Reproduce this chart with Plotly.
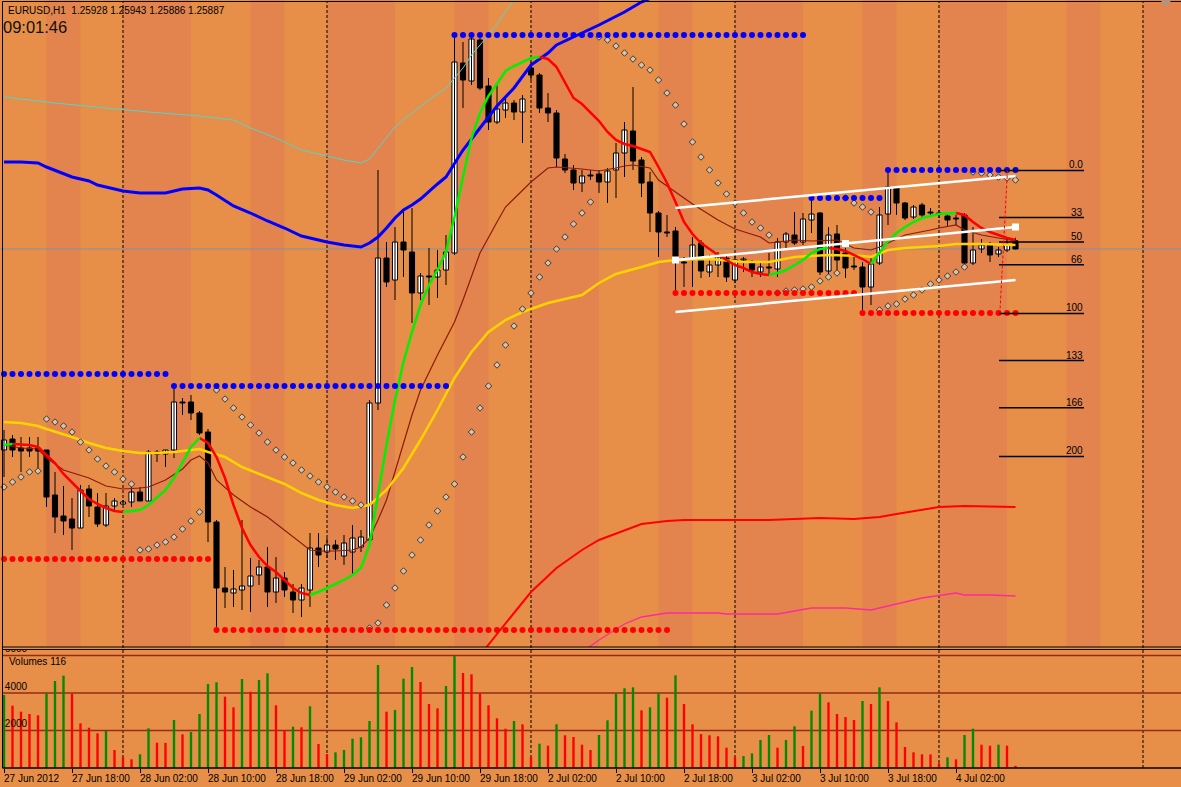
import pandas as pd
import plotly.graph_objects as go

W, H = 1181, 787

# ============================ DATA ============================
header_text = "EURUSD,H1  1.25928 1.25943 1.25886 1.25887"
clock_text = "09:01:46"
volume_title = "Volumes 116"

tick_labels = ["27 Jun 2012", "27 Jun 18:00", "28 Jun 02:00", "28 Jun 10:00", "28 Jun 18:00",
               "29 Jun 02:00", "29 Jun 10:00", "29 Jun 18:00", "2 Jul 02:00", "2 Jul 10:00",
               "2 Jul 18:00", "3 Jul 02:00", "3 Jul 10:00", "3 Jul 18:00", "4 Jul 02:00"]

open_ = [1.24882, 1.24937, 1.24892, 1.24892, 1.24892, 1.24882, 1.24657, 1.24552, 1.24537, 1.24492,
         1.24687, 1.24597, 1.24507, 1.24602, 1.24612, 1.24622, 1.24672, 1.24627, 1.24872, 1.24862,
         1.24882, 1.25122, 1.25122, 1.25067, 1.24972, 1.24522, 1.24192, 1.24167, 1.24182, 1.24202,
         1.24257, 1.24297, 1.24172, 1.24242, 1.24172, 1.24132, 1.24182, 1.24392, 1.24372, 1.24407,
         1.24352, 1.24372, 1.24397, 1.24432, 1.25117, 1.25842, 1.25732, 1.25922, 1.25872, 1.25667,
         1.25752, 1.25747, 1.25782, 1.25867, 1.26817, 1.26727, 1.26932, 1.26702, 1.26522, 1.26582,
         1.26617, 1.26572, 1.26792, 1.26757, 1.26592, 1.26567, 1.26337, 1.26282, 1.26217, 1.26257,
         1.26262, 1.26222, 1.26282, 1.26367, 1.26477, 1.26332, 1.26222, 1.26067, 1.25972, 1.25977,
         1.25822, 1.25832, 1.25917, 1.25772, 1.25807, 1.25842, 1.25732, 1.25832, 1.25817, 1.25772,
         1.25797, 1.25787, 1.25922, 1.25957, 1.25922, 1.26032, 1.26067, 1.25777, 1.25962, 1.25867,
         1.25802, 1.25797, 1.25697, 1.25817, 1.26062, 1.26192, 1.26117, 1.26047, 1.26107, 1.26072,
         1.26067, 1.26052, 1.26042, 1.26057, 1.25817, 1.25887, 1.25907, 1.25862, 1.25882, 1.25928]

high = [1.24982, 1.24957, 1.24947, 1.24947, 1.24947, 1.24882, 1.24772, 1.24702, 1.24642, 1.24707,
        1.24707, 1.24667, 1.24667, 1.24642, 1.24632, 1.24697, 1.24697, 1.24882, 1.24882, 1.24882,
        1.25202, 1.25142, 1.25157, 1.25077, 1.24987, 1.24532, 1.24297, 1.24282, 1.24532, 1.24342,
        1.24332, 1.24397, 1.24347, 1.24272, 1.24212, 1.24212, 1.24467, 1.24467, 1.24442, 1.24432,
        1.24457, 1.24507, 1.24482, 1.25132, 1.26282, 1.25922, 1.25997, 1.26082, 1.26092, 1.25767,
        1.25892, 1.25882, 1.25957, 1.26947, 1.26922, 1.26947, 1.26942, 1.26742, 1.26707, 1.26642,
        1.26632, 1.26657, 1.26822, 1.26767, 1.26667, 1.26582, 1.26362, 1.26307, 1.26282, 1.26282,
        1.26282, 1.26292, 1.26417, 1.26522, 1.26697, 1.26347, 1.26272, 1.26077, 1.26057, 1.25997,
        1.25847, 1.25947, 1.25932, 1.25857, 1.25872, 1.25857, 1.25867, 1.25847, 1.25832, 1.25822,
        1.25867, 1.25942, 1.25972, 1.26072, 1.26067, 1.26142, 1.26072, 1.25997, 1.26007, 1.25892,
        1.25847, 1.25822, 1.25847, 1.26097, 1.26272, 1.26197, 1.26122, 1.26107, 1.26117, 1.26092,
        1.26082, 1.26067, 1.26057, 1.26067, 1.25997, 1.25937, 1.25922, 1.25897, 1.25942, 1.25943]

low = [1.24747, 1.24847, 1.24772, 1.24847, 1.24767, 1.24597, 1.24467, 1.24457, 1.24382, 1.24492,
       1.24547, 1.24497, 1.24497, 1.24577, 1.24607, 1.24597, 1.24627, 1.24627, 1.24822, 1.24797,
       1.24842, 1.25057, 1.25032, 1.24957, 1.24422, 1.23982, 1.24092, 1.24097, 1.24082, 1.24072,
       1.24207, 1.24097, 1.24117, 1.24147, 1.24067, 1.24047, 1.24097, 1.24297, 1.24342, 1.24332,
       1.24307, 1.24257, 1.24372, 1.24407, 1.25082, 1.25697, 1.25632, 1.25747, 1.25517, 1.25632,
       1.25607, 1.25642, 1.25707, 1.25857, 1.26592, 1.26707, 1.26682, 1.26482, 1.26512, 1.26542,
       1.26532, 1.26417, 1.26732, 1.26567, 1.26522, 1.26297, 1.26267, 1.26182, 1.26172, 1.26232,
       1.26167, 1.26117, 1.26142, 1.26247, 1.26282, 1.26147, 1.25972, 1.25847, 1.25947, 1.25667,
       1.25697, 1.25697, 1.25742, 1.25747, 1.25747, 1.25722, 1.25717, 1.25772, 1.25747, 1.25747,
       1.25757, 1.25747, 1.25892, 1.25907, 1.25907, 1.25967, 1.25757, 1.25757, 1.25782, 1.25742,
       1.25782, 1.25567, 1.25607, 1.25807, 1.26007, 1.26057, 1.26032, 1.26037, 1.26047, 1.26057,
       1.26042, 1.25997, 1.26007, 1.25792, 1.25807, 1.25867, 1.25822, 1.25847, 1.25872, 1.25886]

close = [1.24932, 1.24882, 1.24877, 1.24877, 1.24877, 1.24647, 1.24547, 1.24527, 1.24492, 1.24682,
         1.24602, 1.24512, 1.24602, 1.24627, 1.24622, 1.24672, 1.24627, 1.24872, 1.24862, 1.24882,
         1.25122, 1.25117, 1.25067, 1.24967, 1.24522, 1.24192, 1.24172, 1.24187, 1.24202, 1.24252,
         1.24297, 1.24172, 1.24242, 1.24182, 1.24132, 1.24192, 1.24392, 1.24357, 1.24407, 1.24387,
         1.24417, 1.24442, 1.24447, 1.25117, 1.25842, 1.25722, 1.25922, 1.25882, 1.25667, 1.25752,
         1.25747, 1.25782, 1.25872, 1.26822, 1.26732, 1.26937, 1.26692, 1.26522, 1.26587, 1.26617,
         1.26572, 1.26637, 1.26757, 1.26592, 1.26567, 1.26342, 1.26282, 1.26217, 1.26252, 1.26252,
         1.26222, 1.26277, 1.26367, 1.26482, 1.26327, 1.26217, 1.26067, 1.25972, 1.25967, 1.25847,
         1.25817, 1.25907, 1.25777, 1.25807, 1.25847, 1.25747, 1.25832, 1.25837, 1.25782, 1.25797,
         1.25792, 1.25922, 1.25962, 1.25917, 1.26037, 1.26062, 1.25772, 1.25957, 1.25832, 1.25792,
         1.25797, 1.25697, 1.25812, 1.26057, 1.26197, 1.26117, 1.26042, 1.26097, 1.26057, 1.26067,
         1.26062, 1.26032, 1.26037, 1.25817, 1.25882, 1.25907, 1.25857, 1.25882, 1.25907, 1.25887]

volume = [3893, 3323, 3003, 2880, 2811, 3984, 4640, 4923, 3950, 2384,
          2149, 1851, 1973, 960, 571, 464, 731, 2117, 1349, 1340,
          2560, 1797, 1920, 2880, 4480, 4571, 3803, 3237, 4747, 4069,
          4693, 5051, 3344, 2027, 2203, 2171, 3291, 1280, 747, 837,
          960, 1563, 1637, 2507, 5493, 3003, 3093, 4763, 5387, 4587,
          3413, 3184, 4373, 5989, 5067, 4997, 3984, 3344, 2651, 2096,
          2507, 2331, 587, 1296, 1189, 2331, 1744, 1653, 1243, 960,
          1760, 2544, 3984, 4251, 4304, 3077, 3237, 3984, 3749, 4944,
          3413, 2331, 1813, 1744, 1691, 1083, 571, 640, 784, 1493,
          1760, 1083, 1493, 2224, 1173, 3056, 3984, 3504, 2880, 2720,
          2560, 3573, 3413, 4304, 3573, 2437, 1120, 837, 731, 725,
          251, 571, 464, 1760, 2096, 1243, 1189, 1243, 1189, 116]

# Fast moving average (drawn green while rising, red while falling)
fast_ma = [1.24907, 1.24912, 1.24910, 1.24907, 1.24897, 1.24857, 1.24817, 1.24762, 1.24717, 1.24677,
           1.24637, 1.24612, 1.24592, 1.24577, 1.24572, 1.24577, 1.24582, 1.24607, 1.24647, 1.24682,
           1.24742, 1.24822, 1.24897, 1.24942, 1.24917, 1.24847, 1.24742, 1.24607, 1.24492, 1.24407,
           1.24347, 1.24302, 1.24272, 1.24232, 1.24192, 1.24167, 1.24157, 1.24172, 1.24192, 1.24212,
           1.24232, 1.24257, 1.24292, 1.24407, 1.24657, 1.24907, 1.25132, 1.25322, 1.25472, 1.25607,
           1.25707, 1.25782, 1.25872, 1.26047, 1.26247, 1.26442, 1.26567, 1.26652, 1.26712, 1.26777,
           1.26802, 1.26822, 1.26842, 1.26847, 1.26837, 1.26797, 1.26722, 1.26642, 1.26612, 1.26572,
           1.26527, 1.26472, 1.26432, 1.26412, 1.26402, 1.26387, 1.26372, 1.26297, 1.26217, 1.26122,
           1.26022, 1.25962, 1.25917, 1.25887, 1.25857, 1.25832, 1.25807, 1.25792, 1.25772, 1.25762,
           1.25757, 1.25767, 1.25782, 1.25807, 1.25832, 1.25867, 1.25887, 1.25892, 1.25887, 1.25877,
           1.25857, 1.25837, 1.25812, 1.25872, 1.25927, 1.25967, 1.25997, 1.26022, 1.26042, 1.26052,
           1.26062, 1.26065, 1.26067, 1.26057, 1.26022, 1.25992, 1.25972, 1.25957, 1.25942, 1.25932]

# Parabolic SAR
sar = [1.24697, 1.24722, 1.24747, 1.24772, 1.24777, 1.25037, 1.25022, 1.25002, 1.24972, 1.24922,
       1.24882, 1.24837, 1.24802, 1.24772, 1.24737, 1.24712, 1.24382, 1.24387, 1.24407, 1.24422,
       1.24447, 1.24487, 1.24527, 1.24572, None, 1.25182, 1.25137, 1.25092, 1.25047, 1.25007,
       1.24967, 1.24922, 1.24882, 1.24847, 1.24817, 1.24782, 1.24752, 1.24722, 1.24697, 1.24672,
       1.24647, 1.24627, 1.24607, 1.23992, 1.24017, 1.24107, 1.24192, 1.24277, 1.24357, 1.24432,
       1.24507, 1.24577, 1.24647, 1.24712, 1.24847, 1.24972, 1.25092, 1.25202, 1.25307, 1.25407,
       1.25502, 1.25587, 1.25667, 1.25747, 1.25817, 1.25887, 1.25947, 1.26012, 1.26067, 1.26122,
       1.26947, 1.26932, 1.26902, 1.26867, 1.26837, 1.26807, 1.26782, 1.26732, 1.26667, 1.26607,
       1.26512, 1.26422, 1.26347, 1.26282, 1.26217, 1.26162, 1.26117, 1.26067, 1.26022, 1.25992,
       1.25957, 1.25667, 1.25677, 1.25682, 1.25687, 1.25697, 1.25727, 1.25747, 1.25767, 1.26142,
       1.26117, 1.26097, 1.26072, 1.25582, 1.25602, 1.25612, 1.25637, 1.25657, 1.25682, 1.25712,
       1.25732, 1.25752, 1.25772, 1.25797, 1.26272, 1.26267, 1.26257, 1.26247, 1.26242, 1.26232]

# Slow lines (bar index, price)
blue_idx = [0, 2, 4, 5, 8, 10, 11, 14, 16, 19, 21, 23, 24, 25, 27, 29, 31, 33, 35, 38, 40, 42, 43,
            44, 45, 46, 47, 48, 49, 50, 51, 52, 53, 54, 56, 57, 58, 60, 62, 64, 65, 68, 70, 73, 75, 77]
blue_val = [1.26322, 1.26322, 1.26317, 1.26297, 1.26247, 1.26227, 1.26207, 1.26177, 1.26167, 1.26167,
            1.26187, 1.26192, 1.26182, 1.26157, 1.26102, 1.26067, 1.26027, 1.25992, 1.25952, 1.25922,
            1.25907, 1.25897, 1.25917, 1.25947, 1.25992, 1.26042, 1.26082, 1.26107, 1.26137, 1.26177,
            1.26212, 1.26247, 1.26317, 1.26382, 1.26492, 1.26547, 1.26602, 1.26692, 1.26807, 1.26867,
            1.26907, 1.26967, 1.27007, 1.27072, 1.27122, 1.27157]

cyan_idx = [0, 6, 12, 17, 23, 27, 29, 32, 35, 37, 38, 40, 42, 43, 46, 48, 50, 52, 54, 55, 57, 58, 59, 60, 61]
cyan_val = [1.26647, 1.26617, 1.26592, 1.26572, 1.26552, 1.26532, 1.26492, 1.26442, 1.26382, 1.26362,
            1.26352, 1.26332, 1.26317, 1.26337, 1.26497, 1.26567, 1.26632, 1.26692, 1.26792, 1.26857,
            1.26957, 1.27012, 1.27077, 1.27132, 1.27182]

redband_idx = [55, 56, 58, 60, 62, 65, 68, 70, 73, 75, 78, 80, 90, 96, 100, 103, 105, 108, 110, 113, 119]
redband_val = [1.23802, 1.23857, 1.23962, 1.24067, 1.24172, 1.24292, 1.24382, 1.24432, 1.24482, 1.24512,
               1.24527, 1.24532, 1.24532, 1.24542, 1.24537, 1.24547, 1.24562, 1.24582, 1.24597, 1.24602,
               1.24597]

magenta_idx = [67, 68, 70, 73, 75, 77, 78, 84, 85, 88, 91, 95, 99, 102, 105, 108, 112, 113, 116, 119]
magenta_val = [1.23847, 1.23872, 1.23932, 1.24012, 1.24047, 1.24062, 1.24067, 1.24067, 1.24062, 1.24062,
               1.24062, 1.24092, 1.24092, 1.24082, 1.24112, 1.24142, 1.24167, 1.24157, 1.24157, 1.24152]

yellow_idx = [0, 2, 4, 5, 8, 10, 12, 14, 16, 18, 20, 22, 23, 24, 26, 28, 30, 33, 35, 37, 39, 41, 43, 45,
              47, 49, 51, 53, 55, 57, 59, 61, 64, 68, 70, 72, 75, 77, 79, 83, 87, 90, 93, 97, 101, 102,
              104, 106, 108, 110, 112, 115, 119]
yellow_val = [1.25022, 1.25017, 1.25002, 1.24987, 1.24947, 1.24917, 1.24892, 1.24877, 1.24867, 1.24867,
              1.24872, 1.24882, 1.24887, 1.24872, 1.24847, 1.24797, 1.24762, 1.24712, 1.24667, 1.24632,
              1.24607, 1.24592, 1.24607, 1.24682, 1.24792, 1.24932, 1.25082, 1.25242, 1.25372, 1.25472,
              1.25532, 1.25572, 1.25617, 1.25657, 1.25717, 1.25762, 1.25797, 1.25822, 1.25832, 1.25837,
              1.25822, 1.25822, 1.25847, 1.25857, 1.25852, 1.25847, 1.25882, 1.25892, 1.25897, 1.25902,
              1.25912, 1.25912, 1.25907]

brown_idx = [0, 2, 4, 5, 7, 10, 12, 14, 16, 17, 19, 21, 22, 23, 24, 25, 27, 29, 31, 33, 35, 36, 37, 39,
             41, 42, 43, 44, 45, 46, 47, 48, 49, 51, 53, 54, 56, 57, 58, 59, 62, 64, 65, 68, 70, 72, 73,
             74, 76, 77, 79, 81, 84, 86, 89, 90, 93, 95, 98, 100, 102, 103, 104, 106, 109, 110, 112,
             113, 115, 117, 119]
brown_val = [1.24907, 1.24892, 1.24887, 1.24842, 1.24782, 1.24742, 1.24702, 1.24687, 1.24692, 1.24697,
             1.24732, 1.24787, 1.24832, 1.24852, 1.24817, 1.24732, 1.24657, 1.24597, 1.24547, 1.24482,
             1.24417, 1.24382, 1.24377, 1.24377, 1.24382, 1.24397, 1.24442, 1.24532, 1.24632, 1.24772,
             1.24907, 1.25057, 1.25182, 1.25357, 1.25522, 1.25632, 1.25867, 1.25947, 1.26022, 1.26097,
             1.26222, 1.26292, 1.26297, 1.26287, 1.26277, 1.26292, 1.26302, 1.26307, 1.26292, 1.26232,
             1.26172, 1.26112, 1.26032, 1.25987, 1.25947, 1.25917, 1.25932, 1.25927, 1.25932, 1.25892,
             1.25882, 1.25897, 1.25917, 1.25957, 1.25982, 1.25992, 1.26007, 1.25982, 1.25957, 1.25942,
             1.25927]

# Fractal resistance (blue) / support (red) levels: first bar, last bar, price
res_first = [0, 20, 53, 95, 104]
res_last = [19, 52, 94, 103, 119]
res_price = [1.25262, 1.25202, 1.26957, 1.26142, 1.26282]
sup_first = [0, 25, 79, 101]
sup_last = [24, 78, 100, 119]
sup_price = [1.24337, 1.23982, 1.25667, 1.25567]

# Regression channel (first bar, last bar, upper/middle/lower prices at both ends)
chan_bars = [79, 119]
chan_upper = [1.26092, 1.26252]
chan_mid = [1.25832, 1.25997]
chan_lower = [1.25572, 1.25732]
chan_marks = [79, 99, 119]

# Fibonacci retracement
fib_high = 1.26280
fib_low = 1.25565
fib_levels = [0, 33, 50, 66, 100, 133, 166, 200]
fib_texts = ["0.0", "33", "50", "66", "100", "133", "166", "200"]
bid_price = 1.25887

# ============================ LAYOUT HELPERS ============================
N = len(close)
assert all(len(a) == N for a in (open_, high, low, volume, fast_ma, sar))
PX_PER_BAR = 8.5
X_RANGE = [-4 / PX_PER_BAR, (W - 4) / PX_PER_BAR]
MAIN_BOTTOM_PX = 647
VOL_TOP_PX, VOL_BOTTOM_PX = 650, 768
PRICE_TOP = 1.27132
PRICE_PER_PX = 0.00005
VOL_PER_PX = 2000 / 37.5


def yp(px):
    return 1 - px / H


def xp(px):
    return px / W


LIGHT = "#E78F48"
DARK = "#E3844F"
FONT = "Liberation Sans, Arial, sans-serif"

# bar times (H1, weekend skipped), extended into the empty future area
times = []
t = pd.Timestamp("2012-06-27 10:00")
while len(times) < 142:
    if t.weekday() < 5:
        times.append(t)
    t += pd.Timedelta(hours=1)

fig = go.Figure()

# ---- candles: wicks then bodies ----
wx, wy = [], []
for i in range(N):
    wx += [i, i, None]
    wy += [low[i], high[i], None]
fig.add_trace(go.Scatter(x=wx, y=wy, mode="lines", line=dict(color="black", width=1),
                         hoverinfo="skip", xaxis="x", yaxis="y"))
base = [min(o, c) for o, c in zip(open_, close)]
height = [max(abs(c - o), 0.00002) for o, c in zip(open_, close)]
body_col = ["white" if c > o else "black" for o, c in zip(open_, close)]
fig.add_trace(go.Bar(x=list(range(N)), y=height, base=base, width=0.6,
                     marker=dict(color=body_col, line=dict(color="black", width=1)),
                     xaxis="x", yaxis="y", hoverinfo="skip"))


# ---- slow lines ----
def line(xs, ys, color, width):
    fig.add_trace(go.Scatter(x=xs, y=ys, mode="lines", line=dict(color=color, width=width),
                             hoverinfo="skip", xaxis="x", yaxis="y"))


line(cyan_idx, cyan_val, "#52D6CE", 1)
line(magenta_idx, magenta_val, "#FF2A9A", 1.3)
line(redband_idx, redband_val, "#FF0000", 2)
line(blue_idx, blue_val, "#0000FF", 3)
line(brown_idx, brown_val, "#8E1A0C", 1.2)
line(yellow_idx, yellow_val, "#FFD200", 2.5)

# ---- fast MA coloured by slope ----
runs = {"up": ([], []), "down": ([], [])}
prev = None
for i in range(N - 1):
    key = "up" if fast_ma[i + 1] > fast_ma[i] else ("down" if fast_ma[i + 1] < fast_ma[i] else prev)
    xs, ys = runs[key]
    if key != prev:
        if xs:
            xs.append(None); ys.append(None)
        xs.append(i); ys.append(fast_ma[i])
    xs.append(i + 1); ys.append(fast_ma[i + 1])
    prev = key
line(runs["down"][0], runs["down"][1], "#FF0000", 2.5)
line(runs["up"][0], runs["up"][1], "#00F000", 2.5)

# ---- parabolic SAR ----
fig.add_trace(go.Scatter(x=list(range(N)), y=sar, mode="markers",
                         marker=dict(symbol="diamond", size=5, color="#D9C2A8",
                                     line=dict(color="#3A3A3A", width=1)),
                         hoverinfo="skip", xaxis="x", yaxis="y"))

# ---- fractal levels ----
for firsts, lasts, prices, col in ((res_first, res_last, res_price, "#0000FF"),
                                   (sup_first, sup_last, sup_price, "#FF0000")):
    xs, ys = [], []
    for a, b, p in zip(firsts, lasts, prices):
        xs += list(range(a, b + 1)); ys += [p] * (b - a + 1)
    fig.add_trace(go.Scatter(x=xs, y=ys, mode="markers", marker=dict(size=6, color=col),
                             hoverinfo="skip", xaxis="x", yaxis="y"))

# ---- regression channel ----
for vals in (chan_upper, chan_mid, chan_lower):
    line(chan_bars, vals, "white", 2.5)
slope = (chan_mid[1] - chan_mid[0]) / (chan_bars[1] - chan_bars[0])
fig.add_trace(go.Scatter(x=chan_marks, y=[chan_mid[0] + slope * (m - chan_bars[0]) for m in chan_marks],
                         mode="markers", marker=dict(symbol="square", size=7, color="white"),
                         hoverinfo="skip", xaxis="x", yaxis="y"))

# ---- volume ----
vcol = ["#008A00" if (i == 0 or volume[i] > volume[i - 1]) else "#FF0000" for i in range(N)]
fig.add_trace(go.Bar(x=list(range(N)), y=volume, width=0.28, marker=dict(color=vcol, line=dict(width=0)),
                     xaxis="x2", yaxis="y2", hoverinfo="skip"))
fig.add_trace(go.Scatter(x=[0.1, 0.1, 0.1],
                         y=[6000 + 6 * VOL_PER_PX, 4000 + 6 * VOL_PER_PX, 2000 + 6 * VOL_PER_PX],
                         mode="text", text=["6000", "4000", "2000"], textposition="middle right",
                         textfont=dict(family=FONT, size=10, color="black"), cliponaxis=True,
                         hoverinfo="skip", xaxis="x2", yaxis="y2"))

# ============================ SHAPES ============================
shapes = []
day_starts = [i for i, tt in enumerate(times) if tt.hour == 0]
for d in [day_starts[0] - 24] + day_starts:
    for a, b in ((d, d + 8), (d + 15, d + 19)):
        shapes.append(dict(type="rect", xref="x", yref="paper", x0=a, x1=b,
                           y0=yp(MAIN_BOTTOM_PX), y1=1, fillcolor=DARK, line=dict(width=0), layer="below"))
for d in day_starts:
    shapes.append(dict(type="line", xref="x", yref="paper", x0=d, x1=d, y0=yp(VOL_BOTTOM_PX), y1=yp(2),
                       line=dict(color="black", width=1, dash="3px,2px"), layer="below"))
shapes.append(dict(type="line", xref="paper", yref="y", x0=0, x1=1, y0=bid_price, y1=bid_price,
                   line=dict(color="#8091A3", width=1), layer="below"))
for v in (2000, 4000, 6000):
    shapes.append(dict(type="line", xref="paper", yref="y2", x0=xp(3), x1=1, y0=v, y1=v,
                       line=dict(color="#962A18", width=1.5), layer="below"))
# frame
for (x0, y0, x1, y1, w) in ((2.5, 1.5, W, 1.5, 1), (2.5, 1.5, 2.5, VOL_BOTTOM_PX, 1),
                            (2.5, MAIN_BOTTOM_PX, W, MAIN_BOTTOM_PX, 1),
                            (2.5, 649.5, W, 649.5, 1), (2.5, VOL_BOTTOM_PX, W, VOL_BOTTOM_PX, 1.5)):
    shapes.append(dict(type="line", xref="paper", yref="paper", x0=xp(x0), x1=xp(x1), y0=yp(y0), y1=yp(y1),
                       line=dict(color="black", width=w), layer="above"))
# small scroll marker at top right
shapes.append(dict(type="path", xref="paper", yref="paper",
                   path=f"M {xp(1161)},{yp(1)} L {xp(1171)},{yp(1)} L {xp(1166)},{yp(6)} Z",
                   fillcolor="#9A9A9A", line=dict(width=0), layer="above"))
# fibonacci
fib_x0, fib_x1 = (999 - 4) / PX_PER_BAR, (1084 - 4) / PX_PER_BAR
fib_prices = [fib_high - lv / 100 * (fib_high - fib_low) for lv in fib_levels]
for p in fib_prices:
    shapes.append(dict(type="line", xref="x", yref="y", x0=fib_x0, x1=fib_x1, y0=p, y1=p,
                       line=dict(color="black", width=1.5), layer="above"))
shapes.append(dict(type="line", xref="x", yref="y", x0=fib_x0 + 0.1, x1=fib_x0 + 1.0, y0=fib_low, y1=fib_high,
                   line=dict(color="#FF0000", width=1, dash="3px,2px"), layer="above"))

# ============================ ANNOTATIONS ============================
ann = []
ann.append(dict(text=header_text, x=xp(7), y=yp(11), xref="paper", yref="paper", xanchor="left",
                yanchor="middle", showarrow=False, borderpad=0,
                font=dict(family=FONT, size=10, color="black")))
ann.append(dict(text=clock_text, x=xp(2), y=yp(26.5), xref="paper", yref="paper", xanchor="left",
                yanchor="middle", showarrow=False, borderpad=0,
                font=dict(family=FONT, size=16.5, color="#111111")))
ann.append(dict(text=volume_title, x=xp(7), y=yp(661), xref="paper", yref="paper", xanchor="left",
                yanchor="middle", showarrow=False, font=dict(family=FONT, size=10, color="black")))
tick_idx = list(range(0, 8 * len(tick_labels), 8))
for ti, lab in zip(tick_idx, tick_labels):
    ann.append(dict(text=lab, x=ti, y=yp(778), xref="x2", yref="paper", xanchor="left", xshift=-2,
                    yanchor="middle", showarrow=False, font=dict(family=FONT, size=10, color="black")))
for p, lab in zip(fib_prices, fib_texts):
    ann.append(dict(text=lab, x=(1084 - 4) / PX_PER_BAR, y=p, xref="x", yref="y", xanchor="right",
                    yanchor="bottom", yshift=-1, borderpad=0, showarrow=False,
                    font=dict(family=FONT, size=10, color="black")))

fig.update_layout(
    width=W, height=H, autosize=False,
    margin=dict(l=0, r=0, t=0, b=0, pad=0),
    paper_bgcolor=LIGHT, plot_bgcolor=LIGHT,
    showlegend=False, barmode="overlay", hovermode=False,
    xaxis=dict(domain=[0, 1], range=X_RANGE, visible=False, anchor="y"),
    yaxis=dict(domain=[yp(MAIN_BOTTOM_PX), 1], range=[PRICE_TOP - MAIN_BOTTOM_PX * PRICE_PER_PX, PRICE_TOP],
               visible=False, anchor="x"),
    xaxis2=dict(domain=[0, 1], range=X_RANGE, anchor="y2", showgrid=False, zeroline=False, showline=False,
                showticklabels=False, ticks="outside", ticklen=4, tickcolor="black", tickwidth=1,
                tickvals=tick_idx),
    yaxis2=dict(domain=[yp(VOL_BOTTOM_PX), yp(VOL_TOP_PX)],
                range=[0, (VOL_BOTTOM_PX - VOL_TOP_PX) * VOL_PER_PX], visible=False, anchor="x2"),
    shapes=shapes, annotations=ann,
)

fig.write_html("out.html")
